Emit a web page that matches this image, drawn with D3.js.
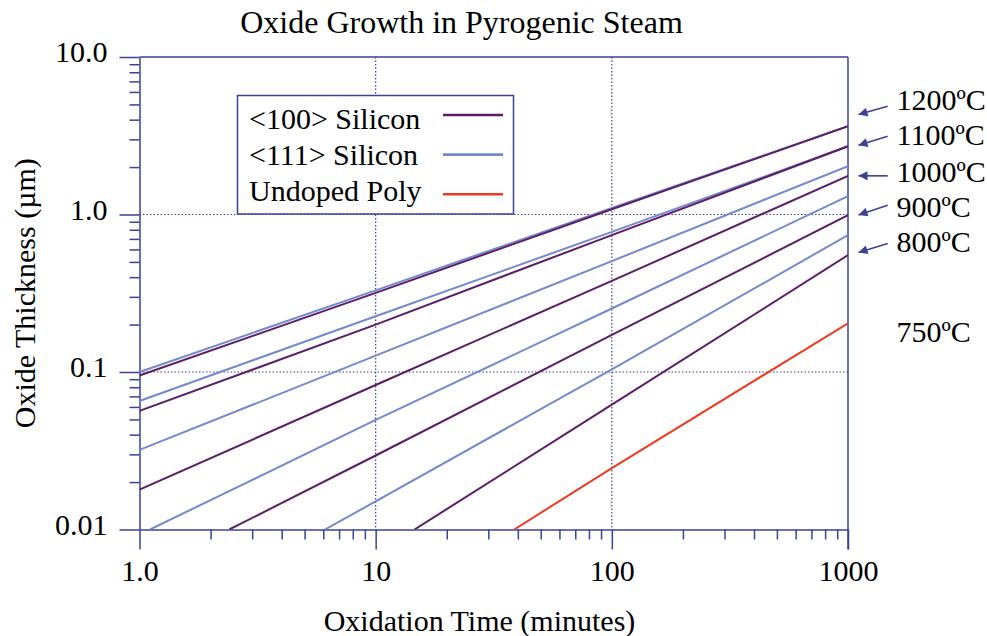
<!DOCTYPE html>
<html>
<head>
<meta charset="utf-8">
<script src="https://cdn.jsdelivr.net/npm/d3@7/dist/d3.min.js"></script>
<style>
  html, body { margin: 0; padding: 0; background: #fff; }
  svg { display: block; }
  text { font-family: "Liberation Serif", "Times New Roman", serif; fill: #000; }
</style>
</head>
<body>
<svg id="chart" width="987" height="636"></svg>
<script>
// ---------------- data ----------------
const chartTitle = "Oxide Growth in Pyrogenic Steam";
const xTitle = "Oxidation Time (minutes)";
const yTitle = "Oxide Thickness (µm)";

const xTickValues = [1, 10, 100, 1000];
const xTickLabels = ["1.0", "10", "100", "1000"];
const yTickValues = [0.01, 0.1, 1, 10];
const yTickLabels = ["0.01", "0.1", "1.0", "10.0"];
const xGrid = [10, 100];
const yGrid = [0.1, 1];

const legendNames = ["<100> Silicon", "<111> Silicon", "Undoped Poly"];
const legendColors = ["#5b1d66", "#7389cc", "#f03a22"];

// <100> silicon curves: [time (min), thickness (µm)]
const si100_1200 = [[1, 0.095], [10, 0.318], [100, 1.08], [1000, 3.63]];
const si100_1100 = [[1, 0.0566], [10, 0.2], [100, 0.74], [1000, 2.71]];
const si100_1000 = [[1, 0.0179], [10, 0.0827], [100, 0.379], [1000, 1.76]];
const si100_900  = [[2.4, 0.01], [10, 0.0295], [100, 0.172], [1000, 0.99]];
const si100_800  = [[14.6, 0.01], [100, 0.062], [1000, 0.552]];
// <111> silicon curves
const si111_1200 = [[1, 0.1], [10, 0.33], [100, 1.1], [1000, 3.63]];
const si111_1100 = [[1, 0.0655], [10, 0.226], [100, 0.776], [1000, 2.71]];
const si111_1000 = [[1, 0.032], [10, 0.127], [100, 0.506], [1000, 2.03]];
const si111_900  = [[1.108, 0.01], [10, 0.0496], [100, 0.253], [1000, 1.31]];
const si111_800  = [[6.1, 0.01], [10, 0.0151], [100, 0.104], [1000, 0.739]];
// undoped poly, 750 °C
const poly_750   = [[38.6, 0.01], [100, 0.0245], [1000, 0.204]];

const curves100 = [si100_1200, si100_1100, si100_1000, si100_900, si100_800];
const curves111 = [si111_1200, si111_1100, si111_1000, si111_900, si111_800];
const curvesPoly = [poly_750];

// temperature annotations (thickness at label baseline, arrow tail, arrow tip)
const tempLabels = ["1200ºC", "1100ºC", "1000ºC", "900ºC", "800ºC", "750ºC"];
const tempLabelAt = [4.59, 2.75, 1.61, 0.966, 0.579, 0.156];
const arrowTail = [4.86, 3.14, 1.76, 1.146, 0.655];
const arrowTip  = [4.31, 2.75, 1.76, 0.994, 0.574];

// ---------------- drawing ----------------
const navy = "#3a4196";
const FS = 30;
const svg = d3.select("#chart");
const L = 139.5, R = 848, T = 57, B = 529.5;

const x = d3.scaleLog().domain([1, 1000]).range([L, R]);
const y = d3.scaleLog().domain([0.01, 10]).range([B, T]);

function minorTicks(lo, hi) {
  const out = [];
  for (let d = lo; d < hi; d *= 10)
    for (let k = 2; k <= 9; k++) out.push(d * k);
  return out;
}

// grid
const grid = svg.append("g").attr("stroke", navy).attr("stroke-width", 1.2)
  .attr("stroke-dasharray", "1.5,2");
grid.selectAll(".gx").data(xGrid).join("line")
  .attr("x1", d => x(d)).attr("x2", d => x(d)).attr("y1", T).attr("y2", B);
grid.selectAll(".gy").data(yGrid).join("line")
  .attr("x1", L).attr("x2", R).attr("y1", d => y(d)).attr("y2", d => y(d));

// frame
svg.append("line").attr("x1", L).attr("x2", R).attr("y1", T).attr("y2", T)
  .attr("stroke", navy).attr("stroke-width", 1.5);
svg.append("line").attr("x1", R).attr("x2", R).attr("y1", T).attr("y2", B)
  .attr("stroke", navy).attr("stroke-width", 1.5);

// axes
function styleAxis(g) {
  g.select(".domain").attr("stroke", navy).attr("stroke-width", 1.5);
  g.selectAll(".tick line").attr("stroke", navy).attr("stroke-width", 1.5);
  g.selectAll(".tick text").style("font-family", "Liberation Serif").style("font-size", FS + "px").attr("fill", "#000");
}
const xMajor = svg.append("g").attr("transform", `translate(0,${B})`)
  .call(d3.axisBottom(x).tickValues(xTickValues).tickSize(20).tickSizeOuter(0)
    .tickFormat((d, i) => xTickLabels[i]));
styleAxis(xMajor);
xMajor.selectAll(".tick text").attr("y", 51.5).attr("dy", 0);
const xMinor = svg.append("g").attr("transform", `translate(0,${B})`)
  .call(d3.axisBottom(x).tickValues(minorTicks(1, 1000)).tickSize(10).tickSizeOuter(0).tickFormat(""));
styleAxis(xMinor);
xMinor.select(".domain").remove();
// extend major tick at right end
svg.append("line").attr("x1", R).attr("x2", R).attr("y1", B).attr("y2", B + 20)
  .attr("stroke", navy).attr("stroke-width", 1.5);

const yMajor = svg.append("g").attr("transform", `translate(${L},0)`)
  .call(d3.axisLeft(y).tickValues(yTickValues).tickSize(20).tickSizeOuter(0)
    .tickPadding(12).tickFormat((d, i) => yTickLabels[i]));
styleAxis(yMajor);
yMajor.selectAll(".tick text").attr("dy", 4.5);
const yMinor = svg.append("g").attr("transform", `translate(${L},0)`)
  .call(d3.axisLeft(y).tickValues(minorTicks(0.01, 10)).tickSize(10).tickSizeOuter(0).tickFormat(""));
styleAxis(yMinor);
yMinor.select(".domain").remove();

// legend box
const lg = svg.append("g");
lg.append("rect").attr("x", 237.5).attr("y", 95.5).attr("width", 276).attr("height", 118.5)
  .attr("fill", "#fff").attr("stroke", navy).attr("stroke-width", 1.5);
legendNames.forEach((n, i) => {
  lg.append("text").attr("x", 249).attr("y", 128.5 + i * 36)
    .style("font-size", FS + "px").text(n);
  lg.append("line").attr("x1", 443).attr("x2", 503)
    .attr("y1", 115 + i * 39.6).attr("y2", 115 + i * 39.6)
    .attr("stroke", legendColors[i]).attr("stroke-width", 2.6);
});

// curves
svg.append("clipPath").attr("id", "clip").append("rect")
  .attr("x", L).attr("y", T).attr("width", R - L).attr("height", B - T);
const line = d3.line().x(d => x(d[0])).y(d => y(d[1]));
const cg = svg.append("g").attr("clip-path", "url(#clip)").attr("fill", "none").attr("stroke-width", 2);
cg.selectAll(".c111").data(curves111).join("path")
  .attr("d", line).attr("stroke", legendColors[1]);
cg.selectAll(".c100").data(curves100).join("path")
  .attr("d", line).attr("stroke", legendColors[0]);
cg.selectAll(".cpoly").data(curvesPoly).join("path")
  .attr("d", line).attr("stroke", legendColors[2]);

// arrows + temperature labels
svg.append("defs").append("marker").attr("id", "ah")
  .attr("viewBox", "0 0 10 10").attr("refX", 10).attr("refY", 5)
  .attr("markerWidth", 10).attr("markerHeight", 9).attr("markerUnits", "userSpaceOnUse")
  .attr("orient", "auto")
  .append("path").attr("d", "M0,0 L10,5 L0,10 Z").attr("fill", navy);
arrowTail.forEach((t, i) => {
  svg.append("line").attr("x1", 887.7).attr("y1", y(t))
    .attr("x2", 858.5).attr("y2", y(arrowTip[i]))
    .attr("stroke", navy).attr("stroke-width", 1.6).attr("marker-end", "url(#ah)");
});
tempLabels.forEach((s, i) => {
  svg.append("text").attr("x", 896.5).attr("y", y(tempLabelAt[i]))
    .style("font-size", FS + "px").text(s);
});

// titles
svg.append("text").attr("x", 461.5).attr("y", 33).attr("text-anchor", "middle")
  .style("font-size", "32px").text(chartTitle);
svg.append("text").attr("x", 479.5).attr("y", 630.5).attr("text-anchor", "middle")
  .style("font-size", FS + "px").text(xTitle);
svg.append("text").attr("transform", `translate(35,${(T + B) / 2}) rotate(-90)`)
  .attr("text-anchor", "middle").style("font-size", FS + "px").text(yTitle);
</script>
</body>
</html>
